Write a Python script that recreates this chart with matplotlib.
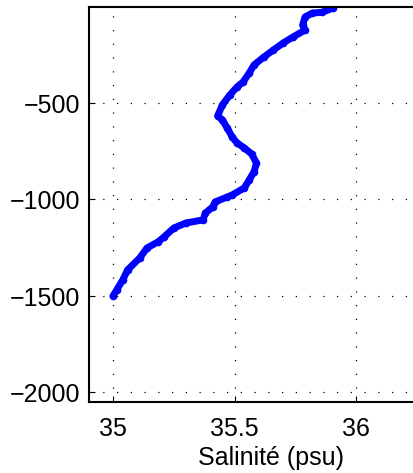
import numpy as np
import matplotlib
matplotlib.use('Agg')
import matplotlib.pyplot as plt

# salinity profile (psu) vs depth (m)
salinity = [35.905, 35.86, 35.82, 35.79, 35.78, 35.79, 35.74, 35.70, 35.66, 35.62,
            35.58, 35.56, 35.535, 35.51, 35.48, 35.45, 35.43, 35.45, 35.47, 35.49,
            35.51, 35.54, 35.57, 35.59, 35.58, 35.56, 35.54, 35.49, 35.47, 35.42,
            35.41, 35.38, 35.37, 35.30, 35.25, 35.21, 35.185, 35.14, 35.11, 35.06,
            35.04, 35.015, 35.0]
depth = [-8, -30, -34, -54, -96, -122, -158, -189, -225, -262,
         -303, -345, -391, -417, -459, -510, -567, -588, -630, -676,
         -707, -733, -764, -811, -857, -899, -940, -977, -987, -1013,
         -1039, -1070, -1106, -1122, -1148, -1194, -1220, -1251, -1303, -1365,
         -1417, -1469, -1500]

xticks = [35, 35.5, 36]
xticklabels = ['35', '35.5', '36']
yticks = [-2000, -1500, -1000, -500]

plt.rcParams['font.family'] = ['Liberation Sans', 'DejaVu Sans']

# a hair over 413x473 so the canvas isn't truncated to 412 px
fig = plt.figure(figsize=(4.131, 4.731), dpi=100)
# axes run past the right edge of the figure (cropped in the original)
ax = fig.add_axes([0.2148, 0.150, 0.8826, 0.836])
ax.plot(salinity, depth, color='#0000ff', linewidth=5, marker='.', markersize=9,
        solid_capstyle='round', solid_joinstyle='round')
ax.set_xlim(34.9, 36.4)
ax.set_ylim(-2050, 0)
ax.set_xticks(xticks)
ax.set_xticklabels(xticklabels)
ax.set_yticks(yticks)
ax.tick_params(direction='in', length=4, width=0.8, labelsize=18, pad=6)
ax.tick_params(axis='x', pad=11)
ax.grid(True, linestyle=(0, (1, 10)), color='black', linewidth=0.9)
for s in ax.spines.values():
    s.set_linewidth(1.5)
ax.spines['right'].set_visible(False)
ax.set_xlabel('Salinité (psu)', fontsize=18, labelpad=3)

fig.savefig('out.png', dpi=100)
